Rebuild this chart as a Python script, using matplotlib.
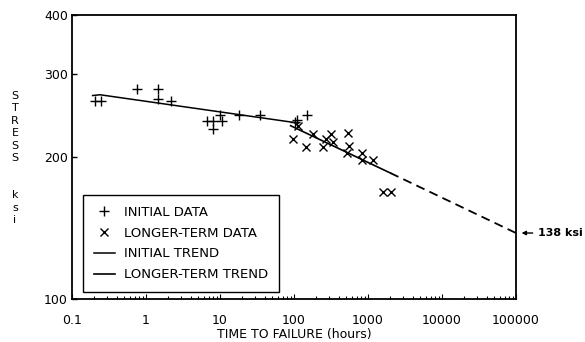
import matplotlib
matplotlib.use("Agg")
import matplotlib.pyplot as plt
from matplotlib.ticker import LogLocator, NullLocator, FixedLocator, FixedFormatter, NullFormatter

# ---- data ----
initial_t = [0.205, 0.25, 0.755, 1.45, 1.45, 2.18, 6.6, 7.96, 7.96, 10.0, 10.5, 18.2, 34.7, 104, 109, 148]
initial_s = [263, 263, 279, 279, 266, 263, 238, 238, 229, 246, 238, 246, 246, 237, 240, 246]

longer_t = [97, 113, 145, 181, 247, 270, 316, 336, 537, 553, 520, 830, 830, 1170, 1600, 2050]
longer_s = [218, 233, 210, 224, 210, 218, 224, 215, 225, 211, 204, 204, 197, 197, 169, 169]

initial_trend_t = [0.19, 0.24, 115]
initial_trend_s = [270, 271, 236]

longer_trend_t = [90, 2000]
longer_trend_s = [233, 185]

extrap_t = [2000, 100000]
extrap_s = [185, 138]

x_ticks = [0.1, 1, 10, 100, 1000, 10000, 100000]
x_labels = ["0.1", "1", "10", "100", "1000", "10000", "100000"]
y_ticks = [100, 200, 300, 400]
y_labels = ["100", "200", "300", "400"]

# ---- figure ----
W, H = 585, 342
fig = plt.figure(figsize=(W / 100, H / 100), dpi=100)
L, R, T, B = 72, 516, 15, 299
ax = fig.add_axes([L / W, 1 - B / H, (R - L) / W, (B - T) / H])
ax.set_xscale("log")
ax.set_yscale("log")
ax.set_xlim(0.1, 100000)
ax.set_ylim(100, 400)

ax.plot(initial_t, initial_s, linestyle="none", marker="+", ms=7.5, mew=1.0,
        color="black", label="INITIAL DATA")
ax.plot(longer_t, longer_s, linestyle="none", marker="x", ms=6, mew=1.0,
        color="black", label="LONGER-TERM DATA")
ax.plot(initial_trend_t, initial_trend_s, color="black", lw=1.1, label="INITIAL TREND")
ax.plot(longer_trend_t, longer_trend_s, color="black", lw=1.2, label="LONGER-TERM TREND")
ax.plot(extrap_t, extrap_s, color="black", lw=1.3, linestyle=(0, (5, 3)))

for s in ax.spines.values():
    s.set_linewidth(1.3)
    s.set_color("black")

ax.xaxis.set_major_locator(FixedLocator(x_ticks))
ax.xaxis.set_major_formatter(FixedFormatter(x_labels))
ax.xaxis.set_minor_locator(LogLocator(base=10, subs=range(2, 10), numticks=20))
ax.xaxis.set_minor_formatter(NullFormatter())
ax.yaxis.set_major_locator(FixedLocator(y_ticks))
ax.yaxis.set_major_formatter(FixedFormatter(y_labels))
ax.yaxis.set_minor_locator(NullLocator())

ax.tick_params(axis="x", which="major", direction="in", length=3.5, width=0.8,
               pad=11, labelsize=9)
ax.tick_params(axis="x", which="minor", direction="in", length=2.5, width=0.8)
ax.tick_params(axis="y", which="major", direction="in", length=3.5, width=1.0,
               pad=3, labelsize=9)

ax.set_xlabel("TIME TO FAILURE (hours)", fontsize=9, labelpad=0.5)

# stacked y label (single multi-line text)
fig.text(15 / W, 1 - 158 / H, "S\nT\nR\nE\nS\nS\n\n\nk\ns\ni", fontsize=8,
         ha="center", va="center", multialignment="center", linespacing=1.3)

leg = ax.legend(loc="lower left", bbox_to_anchor=(0.025, 0.025), borderaxespad=0,
                fancybox=False, edgecolor="black", framealpha=1, fontsize=9.5,
                labelspacing=0.6, borderpad=0.8, handlelength=1.6,
                handletextpad=0.7)
leg.get_frame().set_linewidth(1.0)

ax.annotate("138 ksi", xy=(extrap_t[-1], extrap_s[-1]), xytext=(16, 0),
            textcoords="offset points", ha="left", va="center",
            fontsize=8, fontweight="bold", annotation_clip=False,
            arrowprops=dict(arrowstyle="-|>", color="black", lw=1.0,
                            shrinkA=2, shrinkB=4, mutation_scale=6))

fig.savefig("out.png", dpi=100)
